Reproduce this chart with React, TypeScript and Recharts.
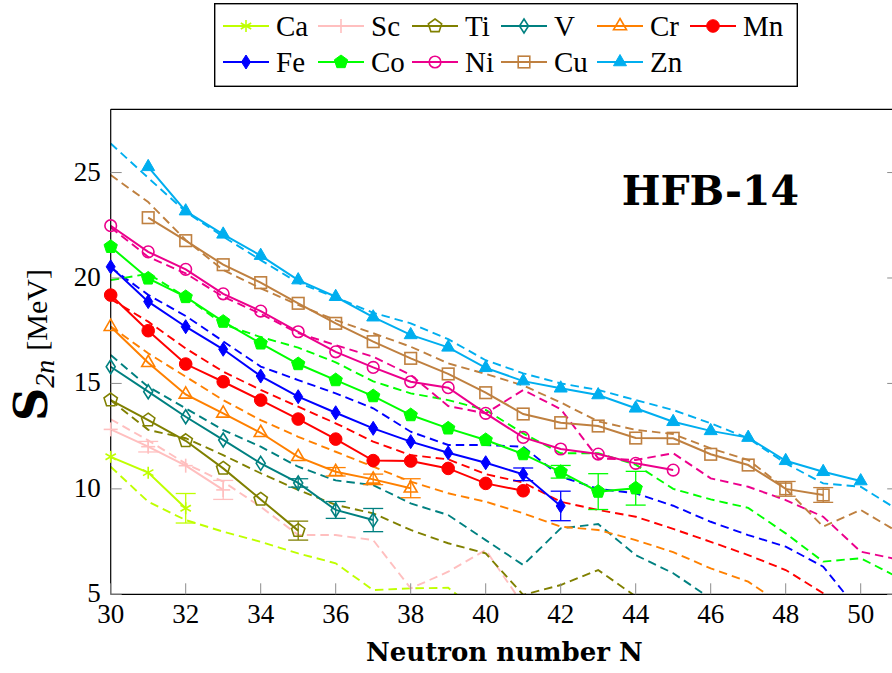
import { LineChart, Line, XAxis, YAxis, ErrorBar } from 'recharts';

// neutron numbers on the x axis
const neutronN = [30, 31, 32, 33, 34, 35, 36, 37, 38, 39, 40, 41, 42, 43, 44, 45, 46, 47, 48, 49, 50, 51];
const xTicks = [30, 32, 34, 36, 38, 40, 42, 44, 46, 48, 50];
const yTicks = [5, 10, 15, 20, 25];

const elements = ['Ca', 'Sc', 'Ti', 'V', 'Cr', 'Mn', 'Fe', 'Co', 'Ni', 'Cu', 'Zn'];
const colors = ['#bfff00', '#ffbfbf', '#808000', '#008080', '#ff8000', '#ff0000', '#0000ff', '#00ff00', '#ec008c', '#bf8040', '#00aeef'];
const shapes = ['asterisk', 'plus', 'pentagonOpen', 'diamondOpen', 'triangleOpen', 'circle', 'diamond', 'pentagon', 'circleOpen', 'squareOpen', 'triangle'];

// experimental S2n [MeV], index 0 = N=30
const caExp = [11.52, 10.77, 9.08];
const scExp = [12.82, 12.0, 11.1, 9.95];
const tiExp = [14.21, 13.26, 12.28, 10.97, 9.5, 8.02];
const vExp = [15.79, 14.61, 13.42, 12.32, 11.21, 10.28, 9.0, 8.52];
const crExp = [17.69, 15.98, 14.48, 13.58, 12.66, 11.52, 10.81, 10.45, 10.03];
const mnExp = [19.19, 17.5, 15.92, 15.08, 14.21, 13.31, 12.36, 11.34, 11.32, 10.97, 10.26, 9.91];
const feExp = [20.53, 18.88, 17.69, 16.62, 15.35, 14.37, 13.61, 12.87, 12.24, 11.71, 11.24, 10.69, 9.19];
const coExp = [21.48, 19.98, 19.1, 17.93, 16.9, 15.92, 15.16, 14.4, 13.5, 12.87, 12.32, 11.65, 10.81, 9.87, 10.03];
const niExp = [22.48, 21.24, 20.41, 19.25, 18.43, 17.45, 16.5, 15.76, 15.08, 14.8, 13.58, 12.44, 11.89, 11.65, 11.21, 10.89];
const cuExp = [null, 22.86, 21.77, 20.63, 19.78, 18.8, 17.85, 16.98, 16.19, 15.45, 14.56, 13.55, 13.14, 12.98, 12.41, 12.4, 11.64, 11.13, 10.0, 9.71];
const znExp = [null, 25.27, 23.17, 22.07, 21.06, 19.9, 19.11, 18.14, 17.3, 16.71, 15.74, 15.11, 14.77, 14.45, 13.82, 13.18, 12.75, 12.43, 11.33, 10.81, 10.37];

// experimental uncertainties (0 = none drawn)
const caErr = [0, 0, 0.7];
const scErr = [0, 0.25, 0, 0.45];
const tiErr = [0, 0, 0, 0, 0, 0.45];
const vErr = [0, 0, 0, 0, 0, 0.2, 0.4, 0.55];
const crErr = [0, 0, 0, 0, 0, 0, 0.2, 0.25, 0.45];
const mnErr: number[] = [];
const feErr = [0, 0, 0, 0, 0, 0, 0, 0, 0, 0, 0, 0.3, 0.7];
const coErr = [0, 0, 0, 0, 0, 0, 0, 0, 0, 0, 0, 0, 0.3, 0.85, 0.8];
const niErr: number[] = [];
const cuErr = [0, 0, 0, 0, 0, 0, 0, 0, 0, 0, 0, 0, 0, 0, 0, 0, 0, 0, 0.35, 0.35];
const znErr: number[] = [];

// HFB-14 predictions, index 0 = N=30
const caTh = [11.05, 9.39, 8.52, 7.97, 7.49, 6.94, 6.47, 5.2, 5.28, 5.31, 3.9];
const scTh = [13.3, 12.3, 11.2, 10.34, 9.15, 7.81, 7.81, 7.57, 5.28, 6.07, 7.1, 4.5];
const tiTh = [14.2, 12.8, 12.4, 11.6, 10.74, 9.95, 9.24, 8.84, 8.05, 7.42, 6.94, 4.97, 5.44, 6.15, 4.9, 3.9];
const vTh = [16.35, 14.84, 13.82, 12.79, 12.0, 11.05, 10.4, 10.18, 9.31, 8.76, 7.57, 6.39, 8.13, 8.33, 6.86, 6.0, 4.8, 4.0];
const crTh = [17.7, 16.43, 15.32, 14.21, 13.26, 12.47, 11.76, 11.05, 10.34, 9.79, 9.39, 8.84, 8.21, 8.05, 7.57, 7.0, 6.23, 5.6, 4.4];
const mnTh = [19.0, 17.93, 16.66, 15.56, 14.69, 13.9, 13.11, 12.24, 11.6, 11.4, 10.7, 10.3, 9.39, 9.0, 8.68, 8.1, 7.49, 6.86, 6.15, 5.05, 4.0];
const feTh = [20.5, 19.2, 18.2, 17.0, 15.8, 15.16, 14.53, 13.82, 12.71, 12.08, 12.08, 12.0, 10.58, 10.0, 9.79, 9.2, 8.44, 7.81, 7.26, 6.31, 4.1];
const coTh = [19.9, 20.2, 19.1, 17.8, 17.2, 16.7, 16.0, 15.1, 14.53, 14.21, 13.74, 12.63, 11.69, 11.69, 11.15, 10.0, 9.5, 9.1, 7.89, 6.55, 6.71, 5.8];
const niTh = [22.4, 21.0, 20.22, 19.11, 18.3, 17.38, 16.82, 16.27, 15.4, 13.93, 13.58, 14.69, 13.78, 11.45, 11.37, 11.69, 10.5, 10.1, 9.47, 8.68, 7.02, 6.65];
const cuTh = [24.88, 23.6, 21.8, 20.38, 19.51, 18.72, 18.0, 17.38, 16.74, 15.95, 15.45, 14.9, 14.1, 13.2, 12.8, 12.6, 11.92, 11.37, 10.0, 8.21, 9.0, 7.95];
const znTh = [26.38, 24.75, 23.14, 21.96, 20.85, 19.77, 19.08, 18.35, 17.85, 17.1, 16.1, 15.48, 15.0, 14.69, 14.21, 13.74, 13.11, 12.4, 11.21, 10.26, 10.1, 9.0];

const expSeries = [caExp, scExp, tiExp, vExp, crExp, mnExp, feExp, coExp, niExp, cuExp, znExp];
const errSeries = [caErr, scErr, tiErr, vErr, crErr, mnErr, feErr, coErr, niErr, cuErr, znErr];
const thSeries = [caTh, scTh, tiTh, vTh, crTh, mnTh, feTh, coTh, niTh, cuTh, znTh];

const expData = expSeries.map((vals, i) =>
  neutronN
    .map((n, k) => ({ N: n, v: vals[k], err: errSeries[i][k] || undefined }))
    .filter((r) => r.v != null)
);
const thData = thSeries.map((vals) =>
  neutronN.map((n, k) => ({ N: n, v: vals[k] })).filter((r) => r.v != null)
);

const serif = "'Liberation Serif', 'Times New Roman', Times, 'DejaVu Serif', serif";
const boldSerif = "'DejaVu Serif', serif";
const tickGray = '#8c8c8c';

function Marker({ shape, cx, cy, color }: any) {
  if (cx == null || cy == null) return null;
  const sw = 1.6;
  const poly = (n: number, r: number, rot: number) =>
    Array.from({ length: n }, (_, k) => {
      const a = rot + (k * 2 * Math.PI) / n;
      return `${cx + r * Math.cos(a)},${cy + r * Math.sin(a)}`;
    }).join(' ');
  switch (shape) {
    case 'asterisk':
      return (
        <g stroke={color} strokeWidth={sw}>
          {[90, 30, 150].map((d) => {
            const a = (d * Math.PI) / 180;
            return <line key={d} x1={cx - 6 * Math.cos(a)} y1={cy - 6 * Math.sin(a)} x2={cx + 6 * Math.cos(a)} y2={cy + 6 * Math.sin(a)} />;
          })}
        </g>
      );
    case 'plus':
      return (
        <g stroke={color} strokeWidth={sw}>
          <line x1={cx - 7} x2={cx + 7} y1={cy} y2={cy} />
          <line x1={cx} x2={cx} y1={cy - 7} y2={cy + 7} />
        </g>
      );
    case 'pentagonOpen':
      return <polygon points={poly(5, 7, -Math.PI / 2)} fill="none" stroke={color} strokeWidth={sw} />;
    case 'pentagon':
      return <polygon points={poly(5, 7, -Math.PI / 2)} fill={color} stroke={color} strokeWidth={1} />;
    case 'diamondOpen':
      return <polygon points={`${cx},${cy - 7} ${cx + 4.5},${cy} ${cx},${cy + 7} ${cx - 4.5},${cy}`} fill="none" stroke={color} strokeWidth={sw} />;
    case 'diamond':
      return <polygon points={`${cx},${cy - 7} ${cx + 4.5},${cy} ${cx},${cy + 7} ${cx - 4.5},${cy}`} fill={color} stroke={color} strokeWidth={1} />;
    case 'triangleOpen':
      return <polygon points={poly(3, 7.5, -Math.PI / 2)} fill="none" stroke={color} strokeWidth={sw} />;
    case 'triangle':
      return <polygon points={poly(3, 7.5, -Math.PI / 2)} fill={color} stroke={color} strokeWidth={1} />;
    case 'circle':
      return <circle cx={cx} cy={cy} r={6.3} fill={color} stroke={color} strokeWidth={1} />;
    case 'circleOpen':
      return <circle cx={cx} cy={cy} r={5.8} fill="none" stroke={color} strokeWidth={sw} />;
    case 'squareOpen':
      return <rect x={cx - 5.8} y={cy - 5.8} width={11.6} height={11.6} fill="none" stroke={color} strokeWidth={sw} />;
    default:
      return null;
  }
}

const BottomTick = (p: any) => (
  <g>
    <line x1={p.x} x2={p.x} y1={p.y} y2={p.y - 11} stroke={tickGray} strokeWidth={1} />
    <text x={p.x} y={p.y + 29} textAnchor="middle" fontFamily={serif} fontSize={27} fill="#000">
      {p.payload.value}
    </text>
  </g>
);
const TopTick = (p: any) => <line x1={p.x} x2={p.x} y1={p.y} y2={p.y + 11} stroke={tickGray} strokeWidth={1} />;
const LeftTick = (p: any) => (
  <g>
    <line x1={p.x} x2={p.x + 11} y1={p.y} y2={p.y} stroke={tickGray} strokeWidth={1} />
    <text x={p.x - 10} y={p.y + 8} textAnchor="end" fontFamily={serif} fontSize={27} fill="#000">
      {p.payload.value}
    </text>
  </g>
);
const RightTick = (p: any) => <line x1={p.x} x2={p.x - 11} y1={p.y} y2={p.y} stroke={tickGray} strokeWidth={1} />;

const XLabel = (p: any) => {
  const vb = p.viewBox || { x: 110.7, width: 787.5 };
  return (
    <text x={vb.x + vb.width / 2} y={661} textAnchor="middle" fontFamily={boldSerif} fontWeight="bold" fontSize={26} fill="#000">
      Neutron number N
    </text>
  );
};

const YLabel = () => (
  <text transform="translate(47,421) rotate(-90)" fill="#000">
    <tspan fontFamily={boldSerif} fontWeight="bold" fontSize={46}>S</tspan>
    <tspan fontFamily={serif} fontStyle="italic" fontSize={28} dy={7}>2n</tspan>
    <tspan fontFamily={serif} fontSize={30} dy={-7} dx={9}>[MeV]</tspan>
  </text>
);

const TitleLabel = () => (
  <text x={799} y={205} textAnchor="end" fontFamily={boldSerif} fontWeight="bold" fontSize={41} fill="#000">
    HFB-14
  </text>
);

const legendCols = [9, 104, 198, 287, 383, 476];

function LegendBox() {
  return (
    <svg width={584} height={84} style={{ position: 'absolute', left: 214, top: 3 }}>
      <rect x={0.7} y={0.7} width={582.6} height={82.6} fill="#fff" stroke="#000" strokeWidth={1.4} />
      {elements.map((el, i) => {
        const row = i < 6 ? 0 : 1;
        const x0 = legendCols[i % 6];
        const cy = row === 0 ? 23 : 59;
        return (
          <g key={el}>
            <line x1={x0} x2={x0 + 46} y1={cy} y2={cy} stroke={colors[i]} strokeWidth={2} />
            <Marker shape={shapes[i]} cx={x0 + 23} cy={cy} color={colors[i]} />
            <text x={x0 + 53} y={cy + 10} fontFamily={serif} fontSize={29} fill="#000">
              {el}
            </text>
          </g>
        );
      })}
    </svg>
  );
}

export default function App() {
  return (
    <div style={{ position: 'absolute', left: 0, top: 0, width: 892, height: 673, overflow: 'hidden', background: '#fff' }}>
      <LineChart width={910} height={673} margin={{ top: 108.3, right: 10.8, bottom: 38.7, left: 50.7 }}>
        <XAxis
          xAxisId="b"
          type="number"
          dataKey="N"
          domain={[30, 51]}
          ticks={xTicks}
          interval={0}
          tickSize={0}
          tickMargin={0}
          tickLine={false}
          height={40}
          axisLine={{ stroke: '#000', strokeWidth: 1.2 }}
          tick={BottomTick}
          label={{ content: XLabel }}
        />
        <XAxis
          xAxisId="top"
          orientation="top"
          type="number"
          dataKey="N"
          domain={[30, 51]}
          ticks={xTicks}
          interval={0}
          tickSize={0}
          tickMargin={0}
          tickLine={false}
          height={1}
          axisLine={{ stroke: '#000', strokeWidth: 1.2 }}
          tick={TopTick}
          label={{ content: TitleLabel }}
        />
        <YAxis
          yAxisId="left"
          type="number"
          domain={[5, 28]}
          ticks={yTicks}
          interval={0}
          tickSize={0}
          tickMargin={0}
          tickLine={false}
          width={60}
          axisLine={{ stroke: '#000', strokeWidth: 1.2 }}
          tick={LeftTick}
          label={{ content: YLabel }}
        />
        <YAxis
          yAxisId="right"
          orientation="right"
          type="number"
          domain={[5, 28]}
          allowDataOverflow
          ticks={yTicks}
          interval={0}
          tickSize={0}
          tickMargin={0}
          tickLine={false}
          width={1}
          axisLine={{ stroke: '#000', strokeWidth: 1.2 }}
          tick={RightTick}
        />

        {elements.map((el, i) => (
          <Line
            key={`th-${el}`}
            data={thData[i]}
            dataKey="v"
            xAxisId="b"
            yAxisId="right"
            type="linear"
            stroke={colors[i]}
            strokeWidth={1.9}
            strokeDasharray="8.5 5"
            dot={false}
            activeDot={false}
            legendType="none"
            isAnimationActive={false}
          />
        ))}
        {elements.map((el, i) => (
          <Line
            key={`exp-${el}`}
            data={expData[i]}
            dataKey="v"
            xAxisId="b"
            yAxisId="left"
            type="linear"
            stroke={colors[i]}
            strokeWidth={2}
            dot={(p: any) => <Marker key={`${el}-${p.index}`} shape={shapes[i]} cx={p.cx} cy={p.cy} color={colors[i]} />}
            activeDot={false}
            isAnimationActive={false}
          >
            <ErrorBar dataKey="err" direction="y" width={10} strokeWidth={1.3} stroke={colors[i]} isAnimationActive={false} />
          </Line>
        ))}
      </LineChart>
      <LegendBox />
    </div>
  );
}
